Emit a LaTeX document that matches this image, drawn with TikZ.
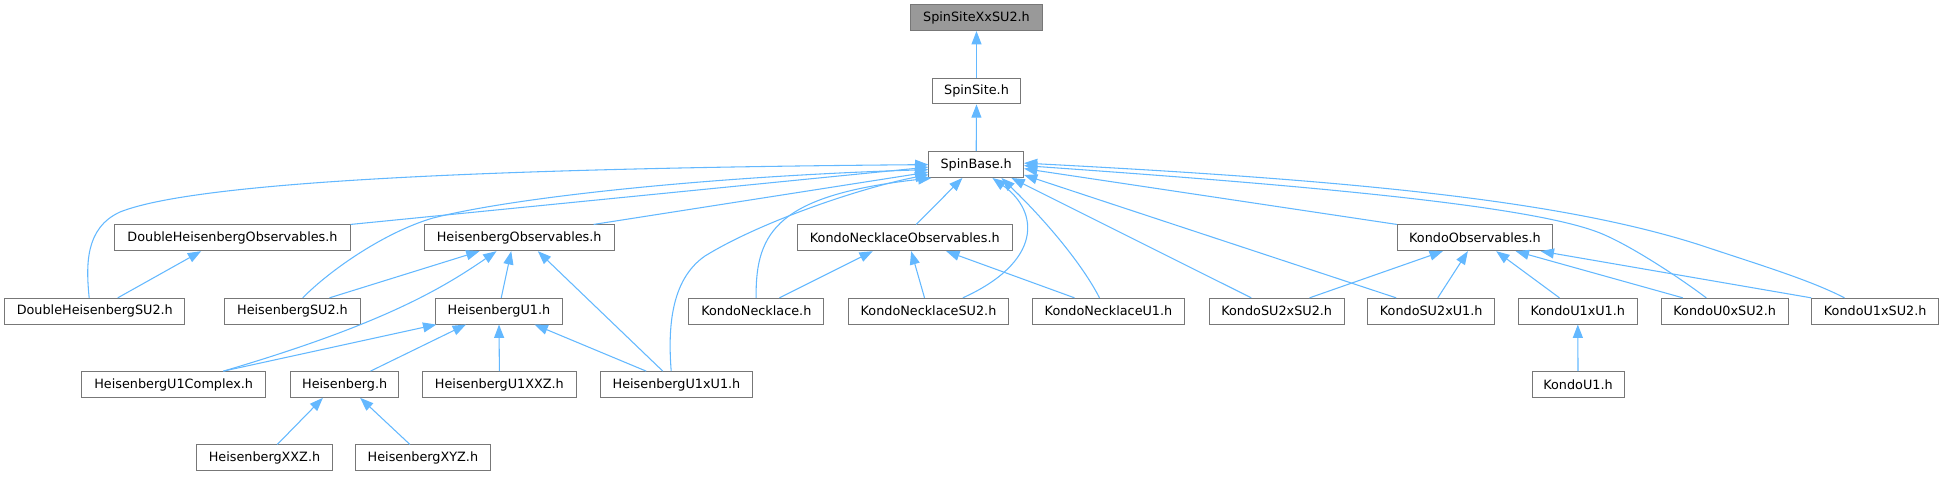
\documentclass[tikz,border=0pt]{standalone}
\usepackage{fontspec}
\setmainfont{DejaVu Sans}
\usetikzlibrary{arrows.meta,calc}
\definecolor{edgeblue}{HTML}{63B8FF}
\definecolor{boxborder}{HTML}{777777}
\definecolor{rootfill}{HTML}{999999}
\begin{document}
\begin{tikzpicture}[x=0.75pt,y=-0.75pt,
  box/.style={draw=boxborder, line width=0.75pt, fill=white, minimum height=19.3pt,
    inner sep=0pt, font=\fontsize{9.6pt}{11pt}\selectfont, text=black},
  rootbox/.style={box, fill=rootfill},
  dep/.style={draw=edgeblue, line width=0.8pt, >={Triangle[length=10pt,width=7.5pt]}, <-}]
\useasboundingbox (0,0) rectangle (1944,476);
% row 1-3
\node[rootbox,minimum width=98.7pt] (root) at (976.5,17.7) {SpinSiteXxSU2.h};
\node[box,minimum width=65.7pt] (site) at (976.5,91) {SpinSite.h};
\node[box,minimum width=70.9pt] (base) at (976.2,164.6) {SpinBase.h};
% row 4
\node[box,minimum width=176.3pt] (dho) at (232.5,237.8) {DoubleHeisenbergObservables.h};
\node[box,minimum width=142.3pt] (ho) at (519.2,237.8) {HeisenbergObservables.h};
\node[box,minimum width=161.3pt] (kno) at (904.8,237.8) {KondoNecklaceObservables.h};
\node[box,minimum width=116.3pt] (ko) at (1474.9,237.8) {KondoObservables.h};
% row 5
\node[box,minimum width=135.2pt] (dhsu2) at (94.8,311.2) {DoubleHeisenbergSU2.h};
\node[box,minimum width=101.3pt] (hsu2) at (292.5,311.2) {HeisenbergSU2.h};
\node[box,minimum width=95.5pt] (hu1) at (499,311.2) {HeisenbergU1.h};
\node[box,minimum width=101pt] (kn) at (756.3,311.2) {KondoNecklace.h};
\node[box,minimum width=120.3pt] (knsu2) at (928.5,311.2) {KondoNecklaceSU2.h};
\node[box,minimum width=114.3pt] (knu1) at (1108.5,311.2) {KondoNecklaceU1.h};
\node[box,minimum width=101.5pt] (ksu2su2) at (1276.7,311.2) {KondoSU2xSU2.h};
\node[box,minimum width=95.3pt] (ksu2u1) at (1431.2,311.2) {KondoSU2xU1.h};
\node[box,minimum width=89.3pt] (ku1u1) at (1577.8,311.2) {KondoU1xU1.h};
\node[box,minimum width=95.5pt] (ku0su2) at (1724.7,311.2) {KondoU0xSU2.h};
\node[box,minimum width=95.3pt] (ku1su2) at (1875.2,311.2) {KondoU1xSU2.h};
% row 6
\node[box,minimum width=138.1pt] (hu1c) at (173.7,384.5) {HeisenbergU1Complex.h};
\node[box,minimum width=81.2pt] (heis) at (344.7,384.5) {Heisenberg.h};
\node[box,minimum width=115.4pt] (hu1xxz) at (499.4,384.5) {HeisenbergU1XXZ.h};
\node[box,minimum width=114.3pt] (hu1xu1) at (676.5,384.5) {HeisenbergU1xU1.h};
\node[box,minimum width=69pt] (ku1) at (1578,384.5) {KondoU1.h};
% row 7
\node[box,minimum width=101.4pt] (hxxz) at (264.5,457.8) {HeisenbergXXZ.h};
\node[box,minimum width=101.4pt] (hxyz) at (422.9,457.8) {HeisenbergXYZ.h};

% edges
\draw[dep] (root.south) -- (site.north);
\draw[dep] (site.south) -- (base.north);
% SpinBase children, left side
\draw[dep] (base.west) .. controls (520,168) and (200,180) .. (120,212)
  .. controls (85,228) and (86,265) .. ($(dhsu2.north west)+(85,0)$);
\draw[dep] ($(base.west)+(0,2.5)$) -- (dho.north east);
\draw[dep] ($(base.west)+(0,5)$) .. controls (720,176) and (520,196) .. (433,218)
  .. controls (385,232) and (330,270) .. ($(hsu2.north west)+(78.3,0)$);
\draw[dep] ($(base.west)+(0,7.5)$) -- ($(ho.north east)+(-21,0)$);
\draw[dep] ($(base.west)+(0,10)$) .. controls (860,188) and (760,222) .. (705,256)
  .. controls (670,280) and (668,330) .. ($(hu1xu1.north west)+(71.4,0)$);
\draw[dep] ($(base.south west)+(3,0)$) .. controls (780,195) and (755,230) .. ($(kn.north west)+(67.7,0)$);
% SpinBase children, below
\draw[dep] ($(base.south west)+(34,0)$) -- ($(kno.north west)+(119.4,0)$);
\draw[dep] ($(base.south west)+(64,0)$) .. controls (1040,212) and (1042,262) .. ($(knsu2.north west)+(115,0)$);
\draw[dep] ($(base.south west)+(73,0)$) .. controls (1040,215) and (1080,260) .. ($(knu1.north west)+(67.7,0)$);
\draw[dep] ($(base.south west)+(83,0)$) -- ($(ksu2su2.north west)+(42.7,0)$);
% SpinBase children, right side
\draw[dep] ($(base.south east)+(0,-3)$) -- ($(ksu2u1.north west)+(29,0)$);
\draw[dep] ($(base.east)+(0,4)$) -- (ko.north west);
\draw[dep] ($(base.east)+(0,1)$) .. controls (1300,185) and (1530,205) .. (1600,233)
  .. controls (1630,245) and (1680,278) .. ($(ku0su2.north west)+(45.7,0)$);
\draw[dep] ($(base.east)+(0,-1.5)$) .. controls (1350,180) and (1560,200) .. (1700,245)
  .. controls (1760,265) and (1810,280) .. ($(ku1su2.north west)+(33.3,0)$);
% Heisenberg branch
\draw[dep] ($(dho.south west)+(86.7,0)$) -- ($(dhsu2.north west)+(113.6,0)$);
\draw[dep] ($(ho.south west)+(55.7,0)$) -- ($(hsu2.north west)+(105,0)$);
\draw[dep] ($(ho.south west)+(72.7,0)$) .. controls (440,290) and (380,325) .. ($(hu1c.north west)+(142.2,0)$);
\draw[dep] ($(ho.south west)+(87.4,0)$) -- ($(hu1.north west)+(66.4,0)$);
\draw[dep] ($(ho.south west)+(114,0)$) -- ($(hu1xu1.north west)+(63,0)$);
\draw[dep] ($(hu1.south west)+(1.5,0)$) -- ($(hu1c.north west)+(142.2,0)$);
\draw[dep] ($(hu1.south west)+(31.1,0)$) -- ($(heis.north west)+(80.4,0)$);
\draw[dep] (hu1.south) -- (hu1xxz.north);
\draw[dep] ($(hu1.south west)+(99.7,0)$) -- ($(hu1xu1.north west)+(46.4,0)$);
\draw[dep] ($(heis.south west)+(32.8,0)$) -- ($(hxxz.north west)+(80.9,0)$);
\draw[dep] ($(heis.south west)+(70.1,0)$) -- ($(hxyz.north west)+(55.1,0)$);
% Kondo necklace branch
\draw[dep] ($(kno.south west)+(76,0)$) -- ($(kn.north west)+(91,0)$);
\draw[dep] ($(kno.south west)+(114.4,0)$) -- ($(knsu2.north west)+(76.7,0)$);
\draw[dep] ($(kno.south west)+(149.4,0)$) -- ($(knu1.north west)+(42.7,0)$);
% Kondo branch
\draw[dep] ($(ko.south west)+(46,0)$) -- ($(ksu2su2.north west)+(101,0)$);
\draw[dep] ($(ko.south west)+(71,0)$) -- ($(ksu2u1.north west)+(70.6,0)$);
\draw[dep] ($(ko.south west)+(99.3,0)$) -- ($(ku1u1.north west)+(41.7,0)$);
\draw[dep] ($(ko.south east)+(-37.3,0)$) -- ($(ku0su2.north west)+(22.3,0)$);
\draw[dep] ($(ko.south east)+(-12.3,0)$) -- (ku1su2.north west);
\draw[dep] (ku1u1.south) -- (ku1.north);
\end{tikzpicture}
\end{document}
